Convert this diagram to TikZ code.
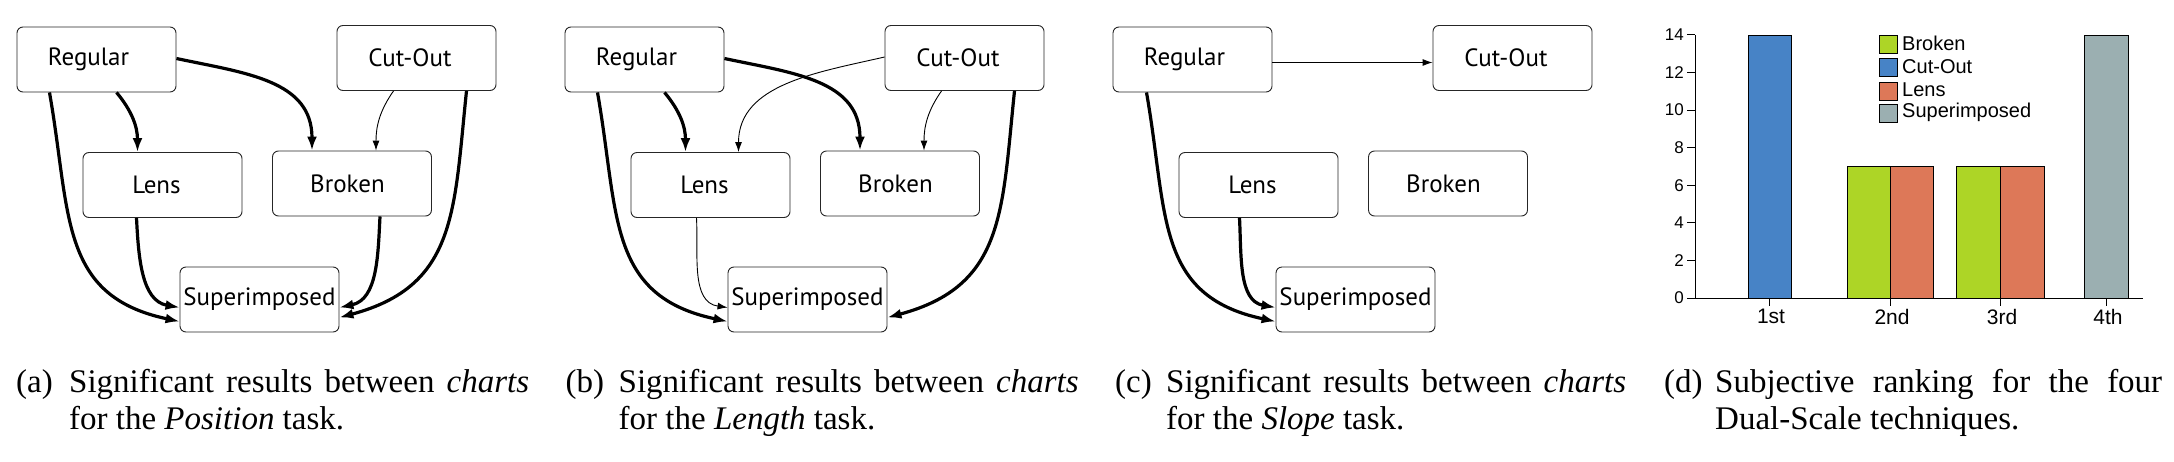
\documentclass[tikz,border=0pt]{standalone}
\usepackage{fontspec}
\setmainfont{Liberation Serif}
\newfontfamily\boxfont{PT Sans}
\newfontfamily\chartfont{Liberation Sans}
\usetikzlibrary{arrows.meta,calc}
\definecolor{cgreen}{HTML}{ADD526}
\definecolor{cblue}{HTML}{4783C6}
\definecolor{corange}{HTML}{DD7858}
\definecolor{cgray}{HTML}{9BAFB1}
\tikzset{
  box/.style={draw=black!85, line width=0.9pt, rounded corners=6pt,
    minimum width=159pt, minimum height=65pt, inner sep=0pt,
    font=\boxfont\fontsize{25}{30}\selectfont},
  heavy/.style={line width=3.2pt, -{Latex[length=14pt,width=10pt]}},
  light/.style={line width=0.9pt, -{Latex[length=10pt,width=7pt]}},
  caplab/.style={anchor=base west, inner sep=0pt, font=\fontsize{33}{38}\selectfont},
  axlab/.style={inner sep=0pt, font=\chartfont\fontsize{17}{20}\selectfont},
  xlab/.style={inner sep=0pt, anchor=north, font=\chartfont\fontsize{21}{24}\selectfont},
  leglab/.style={inner sep=0pt, anchor=west, font=\chartfont\fontsize{20}{24}\selectfont},
  bar/.style={draw=black, line width=1pt},
}
\newcommand\panelboxes[2]{%
  \node[box] (#1reg)  at (#2+96.5,-59.5)  {\hspace*{-16pt}Regular};
  \node[box] (#1cut)  at (#2+416.5,-58)   {\hspace*{-13pt}Cut-Out};
  \node[box] (#1lens) at (#2+162.5,-185)  {\hspace*{-12pt}Lens};
  \node[box] (#1brk)  at (#2+352,-183.5)  {\hspace*{-9pt}Broken};
  \node[box] (#1sup)  at (#2+259.5,-299.5){Superimposed};
}
\newcommand\capline[5]{%
  \node[caplab] (#1l) at (#2,-392) {(#1)};
  \node[caplab] (#1t1) at (#3,-392) {\makebox[#4pt][s]{#5}};
}
\begin{document}
\begin{tikzpicture}[x=1pt,y=1pt]
\useasboundingbox[fill=white] (0,0) rectangle (2174,-461);

% ---------- panel (a)
\panelboxes{a}{0}
\draw[heavy] ([xshift=20pt]areg.south) to[out=-50,in=90] ([xshift=-25pt]alens.north);
\draw[heavy] ([yshift=1pt]areg.east) to[out=-12,in=90,looseness=1.1] ([xshift=-40pt]abrk.north);
\draw[light] ([xshift=-23pt]acut.south) to[out=-125,in=90] ([xshift=24pt]abrk.north);
\draw[heavy] ([xshift=-47pt]areg.south) to[out=-80,in=168,looseness=1.2] ([yshift=-22pt]asup.west);
\draw[heavy] ([xshift=-26pt]alens.south) to[out=-87,in=170] ([yshift=-8pt]asup.west);
\draw[heavy] ([xshift=28pt]abrk.south) to[out=-93,in=12] ([yshift=-8pt]asup.east);
\draw[heavy] ([xshift=50pt]acut.south) to[out=-96,in=15,looseness=1.2] ([yshift=-18pt]asup.east);

% ---------- panel (b)
\panelboxes{b}{548}
\draw[heavy] ([xshift=20pt]breg.south) to[out=-50,in=90] ([xshift=-25pt]blens.north);
\draw[heavy] ([yshift=1pt]breg.east) to[out=-12,in=90,looseness=1.1] ([xshift=-40pt]bbrk.north);
\draw[light] ([xshift=-23pt]bcut.south) to[out=-125,in=90] ([xshift=24pt]bbrk.north);
\draw[light] ([yshift=1pt]bcut.west) to[out=193,in=90] ([xshift=28pt]blens.north);
\draw[heavy] ([xshift=-47pt]breg.south) to[out=-80,in=168,looseness=1.2] ([yshift=-22pt]bsup.west);
\draw[light] ([xshift=-14pt]blens.south) to[out=-87,in=172] ([yshift=-8pt]bsup.west);
\draw[heavy] ([xshift=50pt]bcut.south) to[out=-96,in=15,looseness=1.2] ([yshift=-18pt]bsup.east);

% ---------- panel (c)
\panelboxes{c}{1096}
\draw[light] ([yshift=-3pt]creg.east) -- ([yshift=-3pt]creg.east -| ccut.west);
\draw[heavy] ([xshift=-46pt]creg.south) to[out=-80,in=168,looseness=1.2] ([yshift=-22pt]csup.west);
\draw[heavy] ([xshift=-19pt]clens.south) to[out=-87,in=170] ([yshift=-8pt]csup.west);

% ---------- panel (d): bar chart
\filldraw[bar, fill=cblue]   (1748,-298) rectangle (1791,-35);
\filldraw[bar, fill=cgreen]  (1847,-298) rectangle (1890,-166.5);
\filldraw[bar, fill=corange] (1890,-298) rectangle (1933,-166.5);
\filldraw[bar, fill=cgreen]  (1956,-298) rectangle (2000,-166.5);
\filldraw[bar, fill=corange] (2000,-298) rectangle (2044,-166.5);
\filldraw[bar, fill=cgray]   (2084,-298) rectangle (2128,-35);
\draw[line width=1pt] (1687,-298) -- (2143,-298);
\draw[line width=1pt] (1695,-298) -- (1695,-35);
\foreach \v in {0,2,...,14} {
  \draw[line width=1pt] (1687,{-298+\v*18.79}) -- (1695,{-298+\v*18.79});
  \node[axlab, anchor=east] (yl\v) at (1684,{-298+\v*18.79}) {\v};
}
\foreach \x/\t/\n in {1769/1st/1, 1890/2nd/2, 2000/3rd/3, 2106/4th/4} {
  \draw[line width=1pt] (\x,-298) -- (\x,-306);
  \node[xlab] (xl\n) at (\x+2,-309) {\t};
}
\filldraw[bar, fill=cgreen]  (1879,-35) rectangle (1897,-53);
\filldraw[bar, fill=cblue]   (1879,-58.5) rectangle (1897,-76.5);
\filldraw[bar, fill=corange] (1879,-82) rectangle (1897,-100);
\filldraw[bar, fill=cgray]   (1879,-104.5) rectangle (1897,-122.5);
\node[leglab] (lg1) at (1902,-43) {Broken};
\node[leglab] (lg2) at (1902,-66.5) {Cut-Out};
\node[leglab] (lg3) at (1902,-90) {Lens};
\node[leglab] (lg4) at (1902,-112.5) {Superimposed};

% ---------- captions
\capline{a}{16}{69}{460}{Significant results between \textit{charts}}
\node[caplab] (a2) at (69,-429) {for the \textit{Position} task.};
\capline{b}{565.5}{618.5}{460}{Significant results between \textit{charts}}
\node[caplab] (b2) at (618.5,-429) {for the \textit{Length} task.};
\capline{c}{1115}{1166}{460}{Significant results between \textit{charts}}
\node[caplab] (c2) at (1166,-429) {for the \textit{Slope} task.};
\capline{d}{1664}{1715}{447}{Subjective ranking for the four}
\node[caplab] (d2) at (1715,-429) {Dual-Scale techniques.};
\end{tikzpicture}
\end{document}
